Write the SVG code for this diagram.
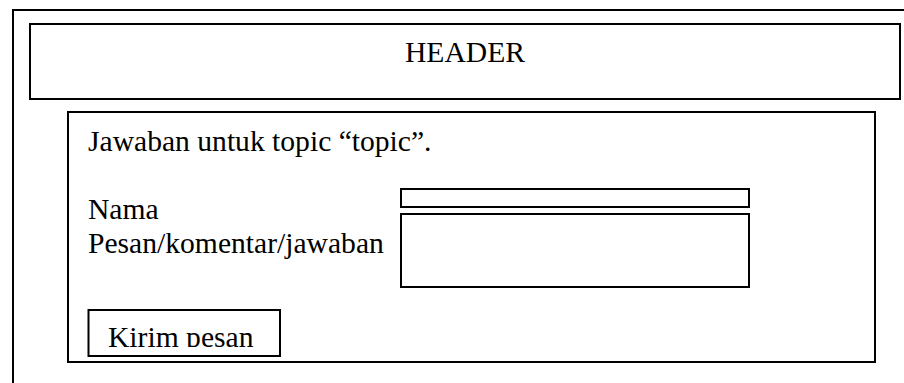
<svg xmlns="http://www.w3.org/2000/svg" width="904" height="383" viewBox="0 0 904 383">
<style>
.box{fill:none;stroke:#000;stroke-width:2}
.t{font-family:"Liberation Serif","Times New Roman",serif;font-size:29.6px;fill:#000}
</style>
<defs>
<clipPath id="btnclip"><rect x="89" y="311" width="190" height="36"/></clipPath>
</defs>
<rect x="0" y="0" width="904" height="383" fill="#fff"/>
<g id="page"><rect class="box" x="13" y="10" width="1000" height="500"/></g>
<g id="header">
<rect class="box" x="30" y="24" width="870" height="75"/>
<text class="t" x="465" y="62.3" text-anchor="middle">HEADER</text>
</g>
<g id="form">
<rect class="box" x="68" y="112" width="807" height="250"/>
<text class="t" x="88" y="150.5">Jawaban untuk topic “topic”.</text>
<text class="t" x="88" y="219.3">Nama</text>
<text class="t" x="88" y="252.7">Pesan/komentar/jawaban</text>
</g>
<g id="input-nama"><rect class="box" x="401" y="189" width="348" height="18"/></g>
<g id="input-pesan"><rect class="box" x="401" y="214" width="348" height="73"/></g>
<g id="button">
<rect class="box" x="88.5" y="310" width="191.5" height="46"/>
<text class="t" x="108" y="346.5" clip-path="url(#btnclip)">Kirim pesan</text>
</g>
<g id="connectors"></g>
</svg>
